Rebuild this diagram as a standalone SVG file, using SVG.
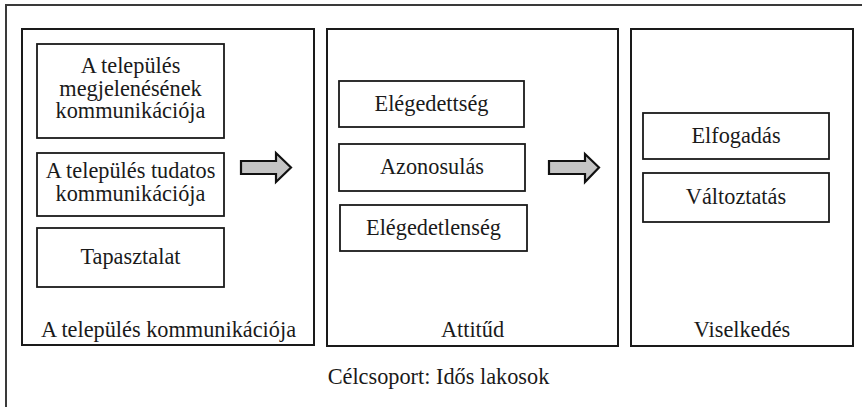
<svg xmlns="http://www.w3.org/2000/svg" width="862" height="407" viewBox="0 0 862 407">
<style>
.frame{fill:none;stroke:#3a3a3a;stroke-width:2}
.panel{fill:#fff;stroke:#1a1a1a;stroke-width:2}
.box{fill:#fff;stroke:#1a1a1a;stroke-width:1.8}
.t{font-family:"Liberation Serif","Times New Roman",serif;font-size:22.3px;fill:#1a1a1a;text-anchor:middle}
.arrow{fill:#c4c4c4;stroke:#111;stroke-width:2.2;stroke-linejoin:miter}
</style>
<rect width="862" height="407" fill="#fff"/>
<path class="frame" d="M6,412 V5 H870"/>

<g id="panel-kommunikacio">
<rect class="panel" x="22" y="29" width="292" height="316"/>
<text class="t" x="168.5" y="337">A település kommunikációja</text>
</g>
<g id="node-megjelenes">
<rect class="box" x="37" y="44" width="187" height="94"/>
<text class="t" x="130.5" y="73">A település</text>
<text class="t" x="130.5" y="95.5">megjelenésének</text>
<text class="t" x="130.5" y="118">kommunikációja</text>
</g>
<g id="node-tudatos">
<rect class="box" x="37" y="153" width="187" height="63"/>
<text class="t" x="130.5" y="178">A település tudatos</text>
<text class="t" x="130.5" y="201">kommunikációja</text>
</g>
<g id="node-tapasztalat">
<rect class="box" x="37" y="228" width="187" height="59"/>
<text class="t" x="130.5" y="264">Tapasztalat</text>
</g>

<g id="panel-attitud">
<rect class="panel" x="327" y="29" width="291" height="317"/>
<text class="t" x="472.5" y="337">Attitűd</text>
</g>
<g id="node-elegedettseg">
<rect class="box" x="339" y="81" width="185" height="46"/>
<text class="t" x="431.5" y="110.5">Elégedettség</text>
</g>
<g id="node-azonosulas">
<rect class="box" x="339" y="144" width="186" height="47"/>
<text class="t" x="432" y="174">Azonosulás</text>
</g>
<g id="node-elegedetlenseg">
<rect class="box" x="340" y="205" width="187" height="46"/>
<text class="t" x="433.5" y="234.5">Elégedetlenség</text>
</g>

<g id="panel-viselkedes">
<rect class="panel" x="631" y="29" width="222" height="317"/>
<text class="t" x="742" y="337">Viselkedés</text>
</g>
<g id="node-elfogadas">
<rect class="box" x="643" y="113" width="186" height="46"/>
<text class="t" x="736" y="142.5">Elfogadás</text>
</g>
<g id="node-valtoztatas">
<rect class="box" x="643" y="173" width="186" height="49"/>
<text class="t" x="736" y="203.5">Változtatás</text>
</g>

<g id="connectors">
<polygon class="arrow" points="241,161 276,161 276,153 291,167.5 276,182 276,174 241,174"/>
<polygon class="arrow" points="549,161 585,161 585,154 599,167.5 585,182 585,174 549,174"/>
</g>

<g id="caption">
<text class="t" x="438.5" y="384">Célcsoport: Idős lakosok</text>
</g>
</svg>
